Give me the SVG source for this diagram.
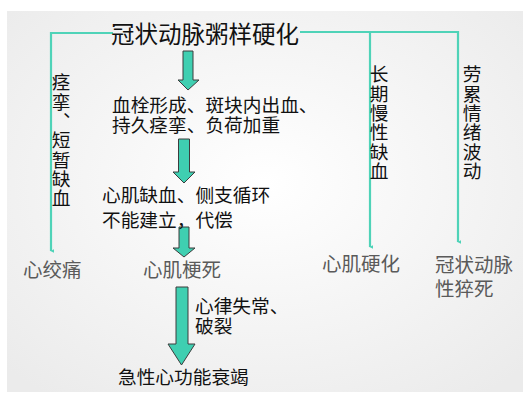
<svg xmlns="http://www.w3.org/2000/svg" width="523" height="394" viewBox="0 0 523 394">
<defs>
<radialGradient id="bg" cx="50%" cy="45%" r="70%">
<stop offset="0" stop-color="#ffffff"/>
<stop offset="1" stop-color="#ebebeb"/>
</radialGradient>
<marker id="tip" viewBox="0 0 6 6" refX="3" refY="5" markerWidth="4" markerHeight="4" orient="auto-start-reverse" markerUnits="userSpaceOnUse">
<path d="M0,0 L6,0 L3,6 Z" fill="#4fd3b8"/>
</marker>
</defs>
<style>
text{font-family:"Noto Sans CJK SC","Noto Sans",sans-serif}
.t{fill:#111;font-size:18.7px;dominant-baseline:central}
.g{fill:#5a5a5a;font-size:19.5px;dominant-baseline:central}
.v{fill:#111;font-size:18.7px;writing-mode:vertical-rl;letter-spacing:0.6px}
.ln{stroke:#4fd3b8;stroke-width:2.2;fill:none}
.ar{fill:#3fcfb1;stroke:#3d3d3d;stroke-width:1}
</style>
<rect x="0" y="0" width="523" height="394" fill="#ffffff"/>
<rect x="7" y="11" width="516" height="381" fill="url(#bg)"/>

<g id="connectors">
<path class="ln" d="M113,33 H51 V251" marker-end="url(#tip)"/>
<path class="ln" d="M300,32 H458 V242" marker-end="url(#tip)"/>
<path class="ln" d="M370,32 V247" marker-end="url(#tip)"/>
<path class="ar" d="M183,51 H193 V80 H199 L188,90 L178,80 H183 Z"/>
<path class="ar" d="M178.5,139 H189.5 V172 H195 L184,183 L173,172 H178.5 Z"/>
<path class="ar" d="M179,227 H189 V248 H195 L184,257 L173,248 H179 Z"/>
<path class="ar" d="M176,287 H188 V344 H195 L181.5,365 L168,344 H176 Z"/>
</g>

<g id="n-title"><text x="205" y="33" font-size="23.5" fill="#111" text-anchor="middle" dominant-baseline="central">冠状动脉粥样硬化</text></g>

<g id="n-cause1">
<text class="t" x="112" y="103">血栓形成、斑块内出血、<tspan x="112" dy="20">持久痉挛、负荷加重</tspan></text>
</g>
<g id="n-cause2">
<text class="t" x="102" y="193">心肌缺血、侧支循环<tspan x="102" dy="25">不能建立，代偿</tspan></text>
</g>
<g id="n-cause3">
<text class="t" x="195" y="304">心律失常、<tspan x="195" dy="20">破裂</tspan></text>
</g>

<g id="n-left-label"><text class="v" x="61" y="73">痉挛、短暂缺血</text></g>
<g id="n-mid-label"><text class="v" x="379" y="65">长期慢性缺血</text></g>
<g id="n-right-label"><text class="v" x="472" y="65">劳累情绪波动</text></g>

<g id="n-angina"><text class="g" x="23" y="268">心绞痛</text></g>
<g id="n-mi"><text class="g" x="143" y="268">心肌梗死</text></g>
<g id="n-sclerosis"><text class="g" x="322" y="262">心肌硬化</text></g>
<g id="n-sudden">
<text class="g" x="435" y="263">冠状动脉<tspan x="435" dy="24">性猝死</tspan></text>
</g>
<g id="n-hf"><text class="t" x="118" y="375" font-size="19.5">急性心功能衰竭</text></g>
</svg>
